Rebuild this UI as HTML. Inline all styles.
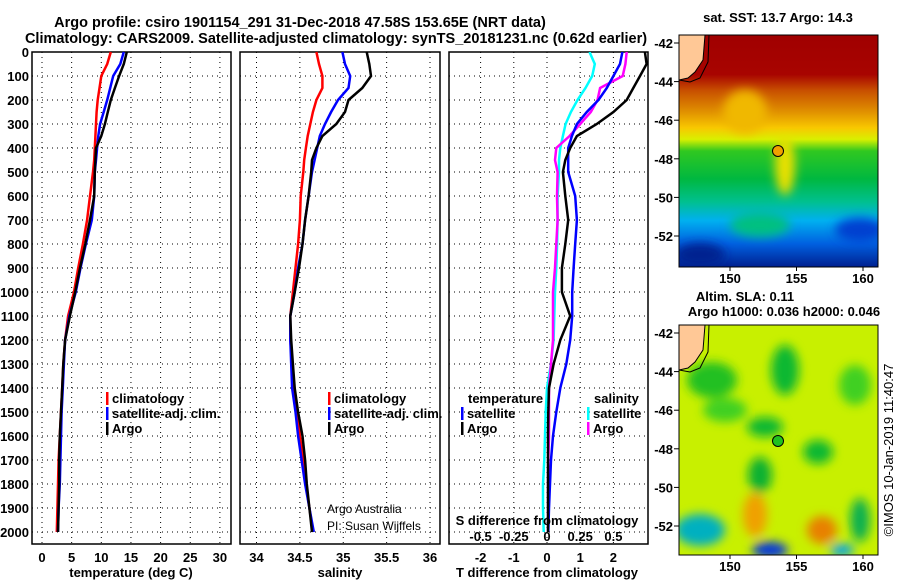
<!DOCTYPE html>
<html><head><meta charset="utf-8"><style>
body{margin:0;background:#fff}
svg{display:block;font-family:"Liberation Sans",sans-serif;font-weight:bold}
text{font-size:13px}
</style></head><body>
<svg id="c" width="900" height="580" viewBox="0 0 900 580">
<defs>
<linearGradient id="sst" x1="0" y1="0" x2="0" y2="1">
<stop offset="0" stop-color="#a00000"/><stop offset="0.17" stop-color="#a80400"/>
<stop offset="0.24" stop-color="#c85000"/><stop offset="0.33" stop-color="#e09000"/>
<stop offset="0.40" stop-color="#f8c800"/><stop offset="0.45" stop-color="#d8f000"/>
<stop offset="0.50" stop-color="#30c820"/><stop offset="0.62" stop-color="#00b840"/>
<stop offset="0.72" stop-color="#00c090"/><stop offset="0.80" stop-color="#00b0f0"/>
<stop offset="0.90" stop-color="#0060e0"/><stop offset="1" stop-color="#002090"/>
</linearGradient>
<filter id="blur"><feGaussianBlur stdDeviation="5"/></filter>
<clipPath id="m1"><rect x="679" y="35" width="199" height="232"/></clipPath>
<clipPath id="m2"><rect x="679" y="325" width="199" height="230"/></clipPath>
<clipPath id="p3clip"><rect x="449" y="52" width="199" height="492"/></clipPath>
</defs>
<text x="300" y="27" text-anchor="middle" style="font-size:14.5px">Argo profile: csiro 1901154_291 31-Dec-2018 47.58S 153.65E (NRT data)</text>
<text x="336" y="43" text-anchor="middle" style="font-size:14.5px">Climatology: CARS2009. Satellite-adjusted climatology: synTS_20181231.nc (0.62d earlier)</text>
<g id="panels"></g>
<!-- SST map -->
<g>
<text x="778" y="22" text-anchor="middle">sat. SST: 13.7 Argo: 14.3</text>
<g clip-path="url(#m1)">
<rect x="679" y="35" width="199" height="232" fill="url(#sst)"/>
<g filter="url(#blur)">
<ellipse cx="745" cy="112" rx="22" ry="22" fill="#f0b800"/>
<ellipse cx="785" cy="165" rx="10" ry="30" fill="#e8e000"/>
<ellipse cx="860" cy="230" rx="25" ry="12" fill="#0040d0"/>
<ellipse cx="700" cy="255" rx="25" ry="12" fill="#002090"/>
<ellipse cx="760" cy="225" rx="30" ry="12" fill="#00c080"/>
</g>
<path d="M679,35 L705,35 L703,60 L695,72 L688,78 L679,80 Z" fill="#ffc896" stroke="#000"/>
<path d="M709,35 L708,62 L700,78 L690,82 L679,80" fill="none" stroke="#000"/>
</g>
<rect x="679" y="35" width="199" height="232" fill="none" stroke="#000"/>
<circle cx="778" cy="151" r="5.5" fill="#f0a000" stroke="#000"/>
</g>
<!-- SLA map -->
<g>
<text x="745" y="301" text-anchor="middle">Altim. SLA: 0.11</text>
<text x="784" y="316" text-anchor="middle">Argo h1000: 0.036 h2000: 0.046</text>
<g clip-path="url(#m2)">
<rect x="679" y="325" width="199" height="230" fill="#c8f000"/>
<g filter="url(#blur)">
<ellipse cx="785" cy="370" rx="14" ry="25" fill="#10b830"/>
<ellipse cx="765" cy="427" rx="18" ry="10" fill="#10b830"/>
<ellipse cx="760" cy="475" rx="12" ry="18" fill="#10b030"/>
<ellipse cx="818" cy="452" rx="15" ry="12" fill="#10b830"/>
<ellipse cx="725" cy="410" rx="22" ry="12" fill="#40d020"/>
<ellipse cx="855" cy="385" rx="16" ry="20" fill="#40d020"/>
<ellipse cx="700" cy="530" rx="25" ry="16" fill="#00b0c0"/>
<ellipse cx="770" cy="550" rx="18" ry="8" fill="#0030e0"/>
<ellipse cx="842" cy="550" rx="12" ry="6" fill="#00a0f0"/>
<ellipse cx="755" cy="515" rx="12" ry="22" fill="#f0a000"/>
<ellipse cx="822" cy="530" rx="15" ry="14" fill="#e88000"/>
<ellipse cx="860" cy="520" rx="10" ry="22" fill="#10b050"/>
<ellipse cx="712" cy="380" rx="25" ry="18" fill="#20c020"/>
</g>
<path d="M679,325 L705,325 L703,350 L695,362 L688,368 L679,370 Z" fill="#ffc896" stroke="#000"/>
<path d="M709,325 L708,352 L700,368 L690,372 L679,370" fill="none" stroke="#000"/>
</g>
<rect x="679" y="325" width="199" height="230" fill="none" stroke="#000"/>
<circle cx="778" cy="441" r="5.5" fill="#20c020" stroke="#000"/>
<text transform="translate(893,450) rotate(-90)" text-anchor="middle" style="font-weight:normal;font-size:13px">©IMOS 10-Jan-2019 11:40:47</text>
</g>
<g id="maplabels"></g>
</svg>
<script>
// ---- data ----
const depths = [0,50,100,150,200,250,300,350,400,450,500,600,700,800,900,1000,1100,1200,1300,1400,1500,1600,1700,1800,1900,2000];
const tempClim = [11.6,11.0,10.0,9.7,9.4,9.2,9.1,9.0,8.9,8.8,8.6,8.1,7.6,6.9,6.1,5.4,4.4,3.9,3.6,3.4,3.2,3.0,2.8,2.7,2.6,2.5];
const tempSat  = [13.8,13.2,12.0,11.5,11.0,10.4,9.8,9.5,9.3,9.1,8.9,8.8,8.4,7.4,6.5,5.7,4.6,3.9,3.7,3.5,3.3,3.2,3.1,3.0,2.8,2.7];
const tempArgo = [14.3,13.8,13.0,12.3,11.6,11.1,10.6,10.0,9.1,9.0,8.9,8.8,8.1,7.3,6.4,5.6,4.7,3.9,3.6,3.4,3.2,3.0,2.9,2.9,2.8,2.7];
const salClim = [34.69,34.72,34.76,34.76,34.69,34.65,34.62,34.59,34.57,34.55,34.54,34.51,34.50,34.48,34.45,34.42,34.39,34.39,34.41,34.43,34.47,34.50,34.54,34.57,34.61,34.65];
const salSat  = [34.99,35.02,35.08,35.06,34.94,34.86,34.79,34.73,34.70,34.67,34.64,34.60,34.56,34.53,34.48,34.44,34.39,34.39,34.40,34.41,34.45,34.48,34.52,34.56,34.61,34.66];
const salArgo = [35.27,35.30,35.32,35.22,35.06,35.02,34.92,34.76,34.69,34.64,34.63,34.60,34.56,34.53,34.49,34.44,34.39,34.40,34.42,34.44,34.48,34.53,34.56,34.58,34.61,34.64];
const tDiffSat  = [2.27,2.2,2.0,1.8,1.55,1.2,0.9,0.75,0.64,0.64,0.64,0.85,0.9,0.85,0.8,0.76,0.76,0.7,0.58,0.4,0.28,0.18,0.12,0.09,0.06,0.04];
const tDiffArgo = [2.95,3.0,2.8,2.6,2.4,2.0,1.5,0.9,0.7,0.55,0.48,0.55,0.64,0.55,0.45,0.45,0.7,0.4,0.2,0.06,0.04,0.03,0.03,0.03,0.03,0.03];
const sDiffSat  = [0.32,0.36,0.34,0.29,0.23,0.18,0.14,0.12,0.10,0.09,0.09,0.08,0.08,0.076,0.07,0.06,0.055,0.05,0.03,0.0,-0.01,-0.015,-0.02,-0.03,-0.03,-0.025];
const sDiffArgo = [0.60,0.59,0.57,0.40,0.38,0.33,0.25,0.17,0.07,0.06,0.08,0.075,0.08,0.07,0.06,0.045,0.045,0.045,0.03,0.015,0.015,0.015,0.01,0.008,0.008,0.008];
const depthTicks = [0,100,200,300,400,500,600,700,800,900,1000,1100,1200,1300,1400,1500,1600,1700,1800,1900,2000];
const tempTicks = [0,5,10,15,20,25,30];
const salTicks = [34,34.5,35,35.5,36];
const tDiffTicks = [-2,-1,0,1,2];
const sDiffTickLabels = ['-0.5','-0.25','0','0.25','0.5'];
const sDiffTicks = [-0.5,-0.25,0,0.25,0.5];
const latTicks = [-42,-44,-46,-48,-50,-52];
const lonTicks = [150,155,160];

const NS='http://www.w3.org/2000/svg';
const root=document.getElementById('panels');
function mk(tag,attrs,parent){const e=document.createElementNS(NS,tag);for(const k in attrs)e.setAttribute(k,attrs[k]);(parent||root).appendChild(e);return e;}
const yD = d => 52 + d*0.24;
const Y0=52, Y1=544;
const xT = v => 42 + v*5.93;
const xS = v => 256.5 + (v-34)*86.75;
const xTD = v => 547 + v*33.2;
const xSD = v => 547 + v*132.8;

function panel(name,x0,x1,ticks,xf,labels){
  const g=mk('g',{});
  
  
  depthTicks.forEach(d=>{ if(d>0) mk('line',{x1:x0,x2:x1,y1:yD(d),y2:yD(d),stroke:'#000','stroke-dasharray':'1,4','stroke-width':1},g);});
  ticks.forEach((t,i)=>{
    mk('line',{x1:xf(t),x2:xf(t),y1:Y0,y2:Y1,stroke:'#000','stroke-dasharray':'1,4'},g);
    if(labels){const tx=mk('text',{x:xf(t),y:562,'text-anchor':'middle'},g);tx.textContent=labels[i];
      
      }
  });
  mk('rect',{x:x0,y:Y0,width:x1-x0,height:Y1-Y0,fill:'none',stroke:'#000','stroke-width':1.5},g);
  return g;
}
function line(g,xs,xf,color,name){
  const pts=depths.map((d,i)=>xf(xs[i]).toFixed(1)+','+yD(d).toFixed(1)).join(' ');
  const p=mk('polyline',{points:pts,fill:'none',stroke:color,'stroke-width':2.5},g);
  
  
}
function legend(g,x,y,items){
  items.forEach((it,i)=>{
    mk('rect',{x:x,y:y+i*15-11,width:2.5,height:13,fill:it[1]},g);
    const t=mk('text',{x:x+6,y:y+i*15},g);t.textContent=it[0];
    
    
  });
}
// Y labels
depthTicks.forEach(d=>{const t=mk('text',{x:29,y:yD(d)+5,'text-anchor':'end'});t.textContent=d;
  
  });

const p1=panel('temperature-panel',32,231,tempTicks,xT,tempTicks.map(String));
line(p1,tempClim,xT,'#f00','temp-climatology-line');
line(p1,tempSat,xT,'#00f','temp-satellite-line');
line(p1,tempArgo,xT,'#000','temp-argo-line');
legend(p1,106,403,[['climatology','#f00'],['satellite-adj. clim.','#00f'],['Argo','#000']]);
let t=mk('text',{x:131,y:577,'text-anchor':'middle'},p1);t.textContent='temperature (deg C)';



const p2=panel('salinity-panel',240,440,salTicks,xS,salTicks.map(String));
line(p2,salClim,xS,'#f00','sal-climatology-line');
line(p2,salSat,xS,'#00f','sal-satellite-line');
line(p2,salArgo,xS,'#000','sal-argo-line');
legend(p2,328,403,[['climatology','#f00'],['satellite-adj. clim.','#00f'],['Argo','#000']]);
t=mk('text',{x:340,y:577,'text-anchor':'middle'},p2);t.textContent='salinity';


[['Argo Australia',513],['PI: Susan Wijffels',530]].forEach(a=>{const c=mk('text',{x:327,y:a[1],style:'font-weight:normal;font-size:12px'},p2);c.textContent=a[0];
  
  });

const p3=panel('difference-panel',449,648,tDiffTicks,xTD,tDiffTicks.map(String));
const p3l=mk('g',{'clip-path':'url(#p3clip)'},p3);
line(p3l,sDiffSat,xSD,'#0ff','sdiff-satellite-line');
line(p3l,sDiffArgo,xSD,'#f0f','sdiff-argo-line');
line(p3l,tDiffSat,xTD,'#00f','tdiff-satellite-line');
line(p3l,tDiffArgo,xTD,'#000','tdiff-argo-line');
t=mk('text',{x:468,y:403},p3);t.textContent='temperature';


t=mk('text',{x:594,y:403},p3);t.textContent='salinity';


legend(p3,461,418,[['satellite','#00f'],['Argo','#000']]);
legend(p3,587,418,[['satellite','#0ff'],['Argo','#f0f']]);
t=mk('text',{x:547,y:525,'text-anchor':'middle'},p3);t.textContent='S difference from climatology';


sDiffTicks.forEach((v,i)=>{const s=mk('text',{x:xSD(v),y:541,'text-anchor':'middle'},p3);s.textContent=sDiffTickLabels[i];
  
  });
t=mk('text',{x:547,y:577,'text-anchor':'middle'},p3);t.textContent='T difference from climatology';



// map labels
const ml=document.getElementById('maplabels');
function mapLabels(latY0,latScale,bottom){
  latTicks.forEach(l=>{const y=latY0+(l+42)*-latScale;
    mk('line',{x1:674,x2:679,y1:y,y2:y,stroke:'#000'},ml);
    const s=mk('text',{x:673,y:y+5,'text-anchor':'end'},ml);s.textContent=l;
    
    });
  lonTicks.forEach(l=>{const x=730+(l-150)*13.3;
    mk('line',{x1:x,x2:x,y1:bottom,y2:bottom+4,stroke:'#000'},ml);
    const s=mk('text',{x:x,y:bottom+16,'text-anchor':'middle'},ml);s.textContent=l;
    
    });
}
mapLabels(43,19.3,267);
mapLabels(333,19.3,555);
</script>
</body></html>
